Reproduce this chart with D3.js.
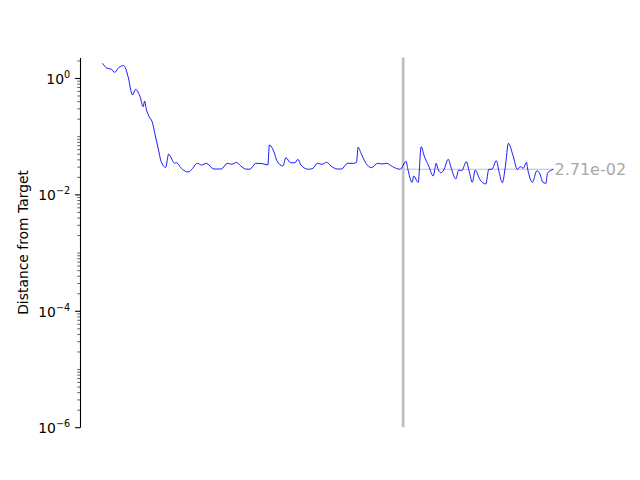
<!DOCTYPE html>
<html>
<head>
<meta charset="utf-8">
<script src="https://cdn.jsdelivr.net/npm/d3@7"></script>
<style>
  body { margin: 0; background: #fff; }
  text { font-family: "DejaVu Sans", sans-serif; }
</style>
</head>
<body>
<script>
// values
var steps = [0, 3, 6, 8, 11, 14, 15, 17, 20, 22, 24, 25, 27, 28, 29, 31, 33, 35, 37, 39,
  42, 44, 45, 48, 49, 53, 57, 59, 63, 66, 69, 74, 79, 83, 86, 89, 92, 95, 98, 102,
  106, 110, 111, 113, 114, 116, 120, 122, 125, 128, 130, 132, 137, 140, 143, 146, 149, 152, 156, 159,
  163, 167, 169, 170, 172, 175, 179, 183, 186, 189, 193, 198, 202, 203, 206, 207, 210, 212, 214, 217,
  220, 222, 223, 225, 227, 230, 232, 235, 237, 239, 242, 244, 246, 248, 251, 255, 257, 259, 262, 264,
  266, 268, 270, 273, 276, 278, 280, 282, 283, 286, 289, 291, 293, 295, 296, 298, 300];
var distance = [1.79, 1.47, 1.41, 1.25, 1.53, 1.63, 1.53, 1.05, 0.510, 0.639, 0.546, 0.477, 0.321, 0.402, 0.301, 0.216, 0.177, 0.105, 0.0619, 0.0365,
  0.0292, 0.0494, 0.0457, 0.0342, 0.0350, 0.0270, 0.0243, 0.0262, 0.0342, 0.0320, 0.0342, 0.0273, 0.0273, 0.0342, 0.0329, 0.0353, 0.0308, 0.0273, 0.0270, 0.0342,
  0.0339, 0.0320, 0.0706, 0.0619, 0.0542, 0.0379, 0.0308, 0.0427, 0.0350, 0.0350, 0.0401, 0.0320, 0.0270, 0.0281, 0.0342, 0.0329, 0.0356, 0.0308, 0.0273, 0.0273,
  0.0342, 0.0342, 0.0356, 0.0645, 0.0508, 0.0350, 0.0288, 0.0342, 0.0333, 0.0342, 0.0299, 0.0270, 0.0370, 0.0281, 0.0161, 0.0207, 0.0161, 0.0660, 0.0457, 0.0308,
  0.0207, 0.0342, 0.0281, 0.0236, 0.0262, 0.0401, 0.0281, 0.0184, 0.0262, 0.0255, 0.0365, 0.0245, 0.0161, 0.0262, 0.0182, 0.0151, 0.0270, 0.0270, 0.0379, 0.0230,
  0.0159, 0.0299, 0.0755, 0.0475, 0.0270, 0.0299, 0.0281, 0.0356, 0.0262, 0.0161, 0.0255, 0.0224, 0.0161, 0.0155, 0.0230, 0.0255, 0.0270];

var marker_step = 200;       // vertical line
var final_value = 0.0271;    // horizontal reference line
var final_label = "2.71e-02";
var major_exps = [0, -2, -4, -6];

var width = 640, height = 480;
var margin = {top: 57.6, right: 64, bottom: 52.8, left: 80};

var svg = d3.select("body").append("svg")
  .attr("width", width)
  .attr("height", height);

var xScale = d3.scaleLinear()
  .domain([-15, 315])
  .range([margin.left, width - margin.right]);

var yScale = d3.scaleLog()
  .domain([1e-6, 2.24])
  .range([height - margin.bottom, margin.top]);

// minor ticks 2..9 x 10^n
var minor = [];
for (var e = -6; e <= 0; e++) {
  for (var k = 2; k <= 9; k++) {
    var v = k * Math.pow(10, e);
    if (v <= 2.24) minor.push(v);
  }
}
// odd decades also get small ticks
[-1, -3, -5].forEach(function(e) { minor.push(Math.pow(10, e)); });

svg.append("g")
  .attr("transform", "translate(" + margin.left + ",0)")
  .call(d3.axisLeft(yScale).tickValues(minor).tickSize(2.8).tickFormat(""))
  .call(function(g) {
    g.select(".domain").remove();
    g.selectAll("line").attr("stroke", "#000").attr("stroke-width", 0.6);
  });

var yAxis = svg.append("g")
  .attr("transform", "translate(" + margin.left + ",0)")
  .call(d3.axisLeft(yScale)
    .tickValues(major_exps.map(function(e) { return Math.pow(10, e); }))
    .tickSize(4.9).tickPadding(4.9).tickSizeOuter(0).tickFormat(""));

yAxis.select(".domain").attr("stroke", "#000").attr("stroke-width", 1.1);
yAxis.selectAll(".tick line").attr("stroke", "#000").attr("stroke-width", 1.1);

yAxis.selectAll(".tick text").each(function(d) {
  var t = d3.select(this)
    .attr("dy", null)
    .attr("y", 5.5)
    .attr("font-size", "13.9px")
    .attr("fill", "#000");
  var ex = Math.round(Math.log10(d));
  t.append("tspan").text("10");
  t.append("tspan").attr("dy", -6).attr("font-size", "9.7px")
    .text(ex < 0 ? "\u2212" + (-ex) : "" + ex);
});

svg.append("text")
  .attr("transform", "translate(23," + (margin.top + (height - margin.top - margin.bottom) / 2) + ") rotate(-90)")
  .attr("text-anchor", "middle")
  .attr("dy", "0.35em")
  .attr("font-size", "13.9px")
  .text("Distance from Target");

// vertical marker line
svg.append("line")
  .attr("x1", xScale(marker_step)).attr("x2", xScale(marker_step))
  .attr("y1", margin.top).attr("y2", height - margin.bottom)
  .attr("stroke", "#c0c0c0").attr("stroke-width", 2.8);

// horizontal final value line
svg.append("line")
  .attr("x1", xScale(marker_step)).attr("x2", xScale(300))
  .attr("y1", yScale(final_value)).attr("y2", yScale(final_value))
  .attr("stroke", "#c0c0c0").attr("stroke-width", 1.1);

var line = d3.line()
  .x(function(d, i) { return xScale(steps[i]); })
  .y(function(d) { return yScale(d); })
  .curve(d3.curveMonotoneX);

svg.append("path")
  .datum(distance)
  .attr("fill", "none")
  .attr("stroke", "#0000ff")
  .attr("stroke-width", 0.9)
  .attr("stroke-linejoin", "round")
  .attr("d", line);

svg.append("text")
  .attr("x", xScale(300) + 1)
  .attr("y", yScale(final_value))
  .attr("dy", "0.36em")
  .attr("font-size", "16px")
  .attr("fill", "#a9a9a9")
  .text(final_label);
</script>
</body>
</html>
